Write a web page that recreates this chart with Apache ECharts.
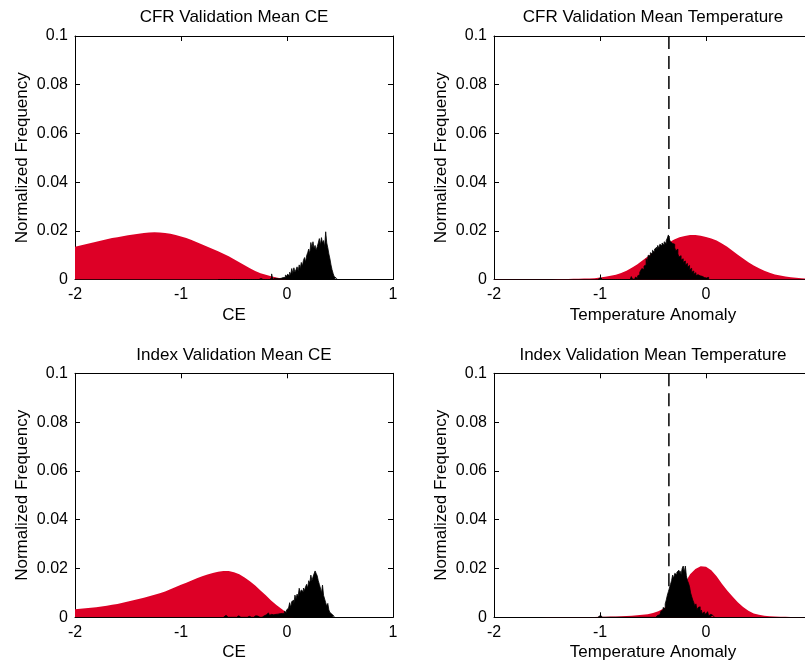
<!DOCTYPE html>
<html><head><meta charset="utf-8">
<script src="https://cdn.jsdelivr.net/npm/echarts@6/dist/echarts.min.js"></script>
<style>html,body{margin:0;padding:0;background:#fff}#c{width:805px;height:664px}</style>
</head><body><div id="c"></div><script>
// ---------------- DATA ----------------
const panelTitles = ['CFR Validation Mean CE', 'CFR Validation Mean Temperature',
                     'Index Validation Mean CE', 'Index Validation Mean Temperature'];
const xAxisNames = ['CE', 'Temperature Anomaly', 'CE', 'Temperature Anomaly'];
const yAxisName = 'Normalized Frequency';
const xTicks = [-2, -1, 0, 1];
const yTicks = [0, 0.02, 0.04, 0.06, 0.08, 0.1];
const observedTemp = -0.35;           // dashed vertical line (temperature panels)

// red (reconstruction) histograms: bin centres start at redStart, width redStep
const redStart = -2.0, redStep = 0.05;
const cfrCeRed = [0.0135,0.0140,0.0145,0.0150,0.0155,0.0160,0.0165,0.0170,0.0174,0.0178,
  0.0182,0.0185,0.0188,0.0191,0.0193,0.0194,0.0193,0.0191,0.0188,0.0183,
  0.0177,0.0170,0.0162,0.0153,0.0144,0.0135,0.0125,0.0116,0.0106,0.0095,
  0.0083,0.0071,0.0059,0.0046,0.0035,0.0026,0.0019,0.0013,0.0008,0.0004,
  0.0001,0];
const cfrTempRed = [0.0001,0.0001,0.0001,0.0001,0.0001,0.0001,0.0001,0.0001,0.0001,0.0001,
  0.0001,0.0001,0.0002,0.0002,0.0002,0.0003,0.0003,0.0004,0.0004,0.0005,
  0.0008,0.0011,0.0015,0.0020,0.0027,0.0036,0.0048,0.0062,0.0078,0.0094,
  0.0110,0.0125,0.0139,0.0152,0.0164,0.0173,0.0179,0.0183,0.0183,0.0180,
  0.0175,0.0168,0.0160,0.0148,0.0134,0.0118,0.0102,0.0086,0.0071,0.0058,
  0.0046,0.0036,0.0028,0.0021,0.0016,0.0012,0.0009,0.0007,0.0005,0.0004,
  0.0003];
const idxCeRed = [0.0033,0.0035,0.0037,0.0039,0.0041,0.0044,0.0047,0.0051,0.0055,0.0060,
  0.0065,0.0070,0.0075,0.0080,0.0086,0.0092,0.0099,0.0106,0.0115,0.0124,
  0.0133,0.0142,0.0151,0.0160,0.0168,0.0175,0.0182,0.0187,0.0190,0.0190,
  0.0185,0.0176,0.0163,0.0148,0.0130,0.0110,0.0090,0.0069,0.0050,0.0034,
  0.0018,0.0008,0.0003];
const idxTempRed = [0,0,0,0,0,0,0,0,0,0,
  0.0001,0.0001,0.0001,0.0001,0.0001,0.0001,0.0001,0.0001,0.0001,0.0001,
  0.0002,0.0002,0.0003,0.0003,0.0004,0.0005,0.0006,0.0008,0.0010,0.0013,
  0.0018,0.0025,0.0036,0.0052,0.0075,0.0105,0.0140,0.0176,0.0198,0.0209,
  0.0207,0.0193,0.0168,0.0138,0.0110,0.0085,0.0062,0.0042,0.0027,0.0016,
  0.0010,0.0006,0.0004,0.0003,0.0002,0.0002,0.0001,0.0001,0.0001,0.0001,
  0.0001];

// black (validation) histograms: bin width blackStep, first bin centre given per panel
const blackStep = 0.01;
const cfrCeBlackStart = -0.65;
const cfrCeBlack = [0,0,0,0.0008,0,0,0,0,0,0,
  0,0,0,0,0,0,0,0,0,0,
  0,0.0006,0,0,0,0.0005,0,0,0,0.0006,
  0,0.0005,0,0,0,0.0006,0,0.0005,0,0,
  0.0004,0,0,0,0,0,0,0,0,0,
  0.0006,0.0023,0,0.0005,0,
  0.0004,0.0008,0.0003,0.0010,0.0005,0.0012,0.0008,0.0015,0.0009,0.0018,
  0.0012,0.0021,0.0016,0.0030,0.0020,0.0045,0.0025,0.0048,0.0030,0.0040,
  0.0052,0.0035,0.0060,0.0045,0.0070,0.0055,0.0078,0.0090,0.0072,0.0098,
  0.0110,0.0125,0.0105,0.0152,0.0130,0.0155,0.0128,0.0140,0.0120,0.0135,
  0.0150,0.0168,0.0142,0.0172,0.0150,0.0160,0.0135,0.0196,0.0150,0.0130,
  0.0105,0.0085,0.0060,0.0040,0.0025,0.0012,0.0006,0.0003,0];
const cfrTempBlackStart = -1.02;
const cfrTempBlack = [0,0,0.0008,0,
  0,0,0,0,0,0,0,0,0,0,
  0,0,0,0,0,0,0,0,0,0,
  0,0,0,0,0,0,0,
  0.0005,0.0012,0.0003,0,0.0006,0.0010,0.0004,0.0015,0.0020,0.0030,
  0.0028,0.0045,0.0040,0.0055,0.0060,0.0085,0.0070,0.0100,0.0095,0.0110,
  0.0105,0.0120,0.0112,0.0125,0.0132,0.0120,0.0140,0.0128,0.0145,0.0138,
  0.0150,0.0142,0.0155,0.0148,0.0160,0.0170,0.0183,0.0165,0.0155,0.0148,
  0.0140,0.0145,0.0130,0.0118,0.0125,0.0105,0.0092,0.0098,0.0080,0.0085,
  0.0070,0.0076,0.0060,0.0066,0.0050,0.0058,0.0040,0.0046,0.0030,0.0035,
  0.0022,0.0028,0.0016,0.0020,0.0012,0.0015,0.0010,0.0013,0.0009,0.0011,
  0.0008,0.0010,0.0006,0.0009,0];
const idxCeBlackStart = -0.60;
const idxCeBlack = [0,0,0.0008,0,0,0,0,0,0,0,
  0,0,0,0,0.0006,0,0,0,0,0,
  0,0,0,0,0.0004,0.0005,0,0.0004,0,0,
  0.0006,0,0.0005,0,0,0.0007,0,0,0.0006,0,
  0.0010,0.0005,0.0018,0.0022,0.0008,0.0012,0.0006,0.0010,0.0008,0.0012,
  0.0009,0.0013,0.0010,0.0015,0.0012,0.0016,0.0020,0.0015,0.0025,0.0020,
  0.0030,0.0038,0.0045,0.0060,0.0040,0.0065,0.0070,0.0055,0.0091,0.0075,
  0.0095,0.0085,0.0119,0.0100,0.0112,0.0105,0.0120,0.0110,0.0125,0.0135,
  0.0120,0.0150,0.0140,0.0173,0.0150,0.0165,0.0178,0.0190,0.0180,0.0170,
  0.0150,0.0135,0.0120,0.0100,0.0132,0.0090,0.0075,0.0060,0.0045,0.0057,
  0.0030,0.0020,0.0012,0.0008,0.0004,0];
const idxTempBlackStart = -1.02;
const idxTempBlack = [0,0,0.0008,0,
  0,0,0,0,0,0,0,0,0,0,
  0,0,0,0,0,0,0,0,0,0,
  0,0,0,0,0,0,0,0,0,0,
  0,0,0,0,0,0,0,0,0,0,
  0,0,0,0,0,0,0,0,0,0,
  0,
  0.0004,0.0008,0.0003,0.0010,0.0015,0.0025,0.0030,0.0040,0.0035,0.0055,
  0.0071,0.0090,0.0105,0.0120,0.0135,0.0150,0.0173,0.0160,0.0180,0.0175,
  0.0185,0.0193,0.0180,0.0190,0.0175,0.0200,0.0210,0.0185,0.0210,0.0170,
  0.0150,0.0140,0.0125,0.0100,0.0085,0.0071,0.0060,0.0045,0.0055,0.0030,
  0.0040,0.0043,0.0020,0.0030,0.0015,0.0022,0.0010,0.0018,0.0008,0.0023,
  0.0006,0.0012,0.0004,0.0008,0.0002,0];

// ---------------- CHART ----------------
const FONT = '"Liberation Sans", Arial, Helvetica, sans-serif';
const RED = '#dd0026';
function bins(start, step, vals) {
  return vals.map((v, k) => [Math.round((start + k * step) * 1000) / 1000, v]);
}
const panels = [
  {red: bins(redStart, redStep, cfrCeRed),  black: bins(cfrCeBlackStart, blackStep, cfrCeBlack),  dashed: false},
  {red: bins(redStart, redStep, cfrTempRed), black: bins(cfrTempBlackStart, blackStep, cfrTempBlack), dashed: true},
  {red: bins(redStart, redStep, idxCeRed),  black: bins(idxCeBlackStart, blackStep, idxCeBlack),  dashed: false},
  {red: bins(redStart, redStep, idxTempRed), black: bins(idxTempBlackStart, blackStep, idxTempBlack), dashed: true}
];
const gridBoxes = [
  {left: 75,  top: 36,    width: 318, height: 243.5},
  {left: 494, top: 36,    width: 318, height: 243.5},
  {left: 75,  top: 373.3, width: 318, height: 244},
  {left: 494, top: 373.3, width: 318, height: 244}
];
const titleTops = [9, 9, 347, 347];

const grid = [], xAxis = [], yAxis = [], series = [], title = [];
const axisLine = {show: true, onZero: false, lineStyle: {color: '#000', width: 1}};
const tick = {show: true, inside: true, length: 5, lineStyle: {color: '#000', width: 1}};
const xMin = xTicks[0], xMax = xTicks[xTicks.length - 1], xInt = xTicks[1] - xTicks[0];
const yMin = yTicks[0], yMax = yTicks[yTicks.length - 1], yInt = yTicks[1] - yTicks[0];

panels.forEach((p, i) => {
  const g = gridBoxes[i];
  grid.push(Object.assign({containLabel: false, outerBoundsMode: 'none'}, g));
  title.push({text: panelTitles[i], left: g.left + g.width / 2, top: titleTops[i], textAlign: 'center', padding: 0,
    textStyle: {fontFamily: FONT, fontSize: 17, fontWeight: 'normal', color: '#000'}});
  xAxis.push({type: 'value', gridIndex: i, position: 'bottom', min: xMin, max: xMax, interval: xInt,
    axisLine, axisTick: tick, splitLine: {show: false},
    axisLabel: {color: '#000', fontSize: 16, fontFamily: FONT, margin: 7, showMinLabel: true, showMaxLabel: true},
    name: xAxisNames[i], nameLocation: 'middle', nameGap: 27,
    nameTextStyle: {color: '#000', fontSize: 17, fontFamily: FONT}});
  xAxis.push({type: 'value', gridIndex: i, position: 'top', min: xMin, max: xMax, interval: xInt,
    axisLine, axisTick: tick, splitLine: {show: false}, axisLabel: {show: false}});
  yAxis.push({type: 'value', gridIndex: i, position: 'left', min: yMin, max: yMax, interval: yInt,
    axisLine, axisTick: tick, splitLine: {show: false},
    axisLabel: {color: '#000', fontSize: 16, fontFamily: FONT, margin: 7, showMinLabel: true, showMaxLabel: true},
    name: yAxisName, nameLocation: 'middle', nameGap: 44, nameRotate: 90,
    nameTextStyle: {color: '#000', fontSize: 17, fontFamily: FONT}});
  yAxis.push({type: 'value', gridIndex: i, position: 'right', min: yMin, max: yMax, interval: yInt,
    axisLine, axisTick: tick, splitLine: {show: false}, axisLabel: {show: false}});

  if (p.dashed) {
    series.push({type: 'line', xAxisIndex: 2 * i, yAxisIndex: 2 * i, silent: true, symbol: 'none',
      data: [[observedTemp, yMax], [observedTemp, yMin]],
      lineStyle: {color: '#000', width: 1.5, type: [13, 7]}, z: 1});
  }
  series.push({type: 'line', xAxisIndex: 2 * i, yAxisIndex: 2 * i, silent: true, symbol: 'none',
    data: p.red, lineStyle: {width: 0, color: RED}, areaStyle: {color: RED, opacity: 1}, z: 2});
  series.push({type: 'line', xAxisIndex: 2 * i, yAxisIndex: 2 * i, silent: true, symbol: 'none', step: 'middle',
    data: p.black, lineStyle: {width: 0.8, color: '#000'}, areaStyle: {color: '#000', opacity: 1}, z: 3});
});

const chart = echarts.init(document.getElementById('c'), null, {renderer: 'canvas'});
chart.setOption({animation: false, backgroundColor: '#fff', title, grid, xAxis, yAxis, series});
</script></body></html>
